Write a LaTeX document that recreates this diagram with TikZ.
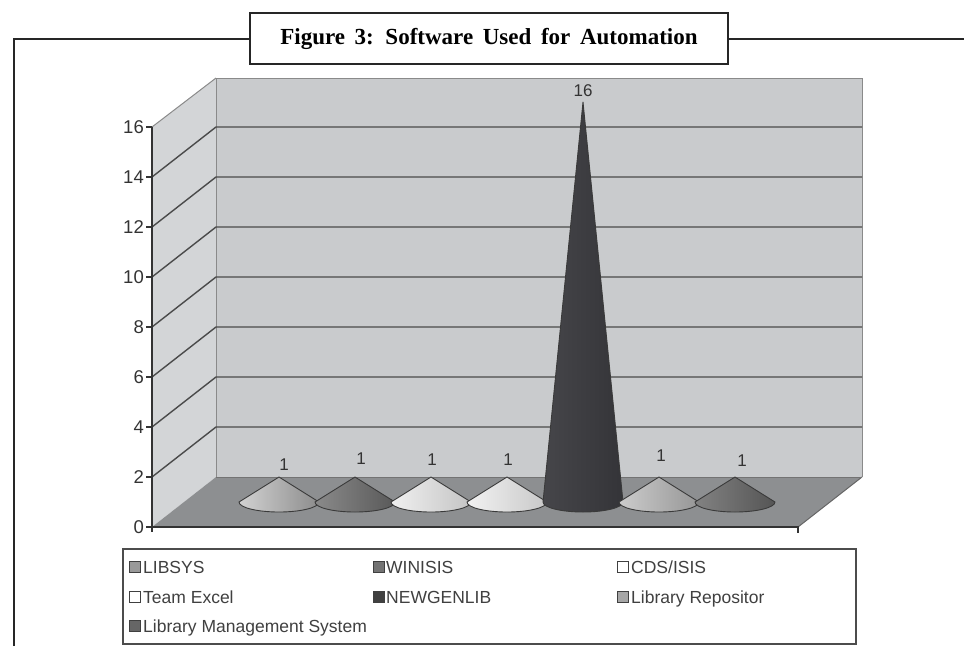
\documentclass[tikz,border=0pt]{standalone}
\usepackage{fontspec}
\setmainfont{Liberation Serif}
\newfontfamily\arialf{Liberation Sans}
\definecolor{wallc}{HTML}{C9CBCD}
\definecolor{sidec}{HTML}{D3D5D7}
\definecolor{floorc}{HTML}{8D8F91}
\definecolor{gridc}{HTML}{4A4A4A}
\definecolor{edgec}{HTML}{8A8A8A}
\definecolor{conedge}{HTML}{3A3A3A}
\definecolor{cAl}{HTML}{D2D2D2}\definecolor{cAr}{HTML}{8C8C8C}
\definecolor{cBl}{HTML}{8A8A8A}\definecolor{cBr}{HTML}{595959}
\definecolor{cCl}{HTML}{F0F0F0}\definecolor{cCr}{HTML}{C4C4C4}
\definecolor{cDl}{HTML}{F2F2F2}\definecolor{cDr}{HTML}{C8C8C8}
\definecolor{cEl}{HTML}{46464A}\definecolor{cEr}{HTML}{343438}
\definecolor{cFl}{HTML}{CCCCCC}\definecolor{cFr}{HTML}{969696}
\definecolor{cGl}{HTML}{828282}\definecolor{cGr}{HTML}{555555}
\newcommand\mycone[4]{%
  \shadedraw[left color=#3, middle color=#4!50!#3, right color=#4, draw=conedge, line width=0.9pt, line join=round]
  (#1,#2) -- ({#1-40},502) .. controls ({#1-40},507.5) and ({#1-22.1},512) .. (#1,512)
  .. controls ({#1+22.1},512) and ({#1+40},507.5) .. ({#1+40},502) -- cycle;}
\begin{document}
\begin{tikzpicture}[x=1pt,y=-1pt,
  frame/.style={line width=2pt, draw=black!85},
  titlebox/.style={draw=black!85, line width=2pt, fill=white, minimum width=478pt, minimum height=51pt, inner sep=0pt,
    font=\fontsize{23}{25}\selectfont\bfseries},
  tick/.style={font=\arialf\fontsize{18.5}{20}\selectfont, text=black!80, anchor=east, inner sep=0pt},
  val/.style={font=\arialf\fontsize{17}{19}\selectfont, text=black!80, inner sep=0pt},
  leg/.style={font=\arialf\fontsize{17.5}{19}\selectfont, text=black!75, anchor=base west, inner sep=0pt},
  legsq/.style={draw=black!75, line width=0.9pt, minimum width=11pt, minimum height=10.5pt, inner sep=0pt, anchor=west},
  gridl/.style={draw=gridc, line width=1.4pt}]
\useasboundingbox (0,0) rectangle (964,646);
% ---- frame and title
\node[titlebox] (title) at (489,38.5) {\spaceskip=0.42em Figure 3: Software Used for Automation};
\coordinate (fbl) at (14,646);
\coordinate (fr) at (964,38.5);
\draw[frame] (fbl) |- (title.west);
\draw[frame] (title.east) -- (fr);
% ---- walls
\coordinate (bwtl) at (216,78);
\coordinate (bwtr) at (862,78);
\coordinate (bwbr) at (862,477);
\coordinate (bwbl) at (216,477);
\coordinate (ftl) at (152,127);
\coordinate (fbl0) at (152,527);
\coordinate (fbr) at (798,527);
\fill[sidec] (ftl) -- (bwtl) -- (bwbl) -- (fbl0) -- cycle;
\fill[wallc] (bwtl) rectangle (bwbr);
\draw[edgec, line width=1pt] (bwbl) -- (bwtl) -- (bwtr) -- (bwbr);
\draw[edgec, line width=1pt] (ftl) -- (bwtl);
% gridlines
\foreach \v in {2,4,...,14}{
  \draw[gridl] (152,{527-25*\v}) -- (216,{477-25*\v}) -- (862,{477-25*\v});
}
% floor
\fill[floorc] (fbl0) -- (bwbl) -- (bwbr) -- (fbr) -- cycle;
\draw[draw=black!60, line width=1pt] (bwbr) -- (fbr);
\draw[draw=black!55, line width=1pt] (bwbl) -- (bwbr);
\draw[draw=black!80, line width=1.4pt] (fbl0) -- (fbr) -- (798,533);
% axis
\draw[draw=black!80, line width=1.4pt] (ftl) -- (152,532);
\foreach \v in {0,2,...,16}{
  \draw[draw=black!80, line width=1.4pt] (146,{527-25*\v}) -- (152,{527-25*\v});
  \node[tick] (t\v) at (144,{527-25*\v}) {\v};
}
% ---- cones
\mycone{279}{477}{cAl}{cAr}
\mycone{355}{477}{cBl}{cBr}
\mycone{431}{477}{cCl}{cCr}
\mycone{507}{477}{cDl}{cDr}
\mycone{583}{102}{cEl}{cEr}
\mycone{659}{477}{cFl}{cFr}
\mycone{735}{477}{cGl}{cGr}
% value labels
\node[val] (v1) at (284,465) {1};
\node[val] (v2) at (361,459) {1};
\node[val] (v3) at (432,460) {1};
\node[val] (v4) at (508,460) {1};
\node[val] (v5) at (583,91) {16};
\node[val] (v6) at (661,456) {1};
\node[val] (v7) at (742,461) {1};
% ---- legend
\node[draw=black!70, line width=1.4pt, fill=white, minimum width=733pt, minimum height=95pt, inner sep=0pt] (legend) at (489.5,596.5) {};
\node[legsq, fill=black!40] (s1) at (129,567) {};
\node[leg] (l1) at (143,573.3) {LIBSYS};
\node[legsq, fill=black!55] (s2) at (373,567) {};
\node[leg] (l2) at (386,573.3) {WINISIS};
\node[legsq, fill=white] (s3) at (617,567) {};
\node[leg] (l3) at (631,573.3) {CDS/ISIS};
\node[legsq, fill=white] (s4) at (129,597) {};
\node[leg] (l4) at (143,603.3) {Team Excel};
\node[legsq, fill=black!75] (s5) at (373,597) {};
\node[leg] (l5) at (386,603.3) {NEWGENLIB};
\node[legsq, fill=black!35] (s6) at (617,597) {};
\node[leg] (l6) at (631,603.3) {Library Repositor};
\node[legsq, fill=black!60] (s7) at (129,626) {};
\node[leg] (l7) at (143,632.3) {Library Management System};
\end{tikzpicture}
\end{document}
